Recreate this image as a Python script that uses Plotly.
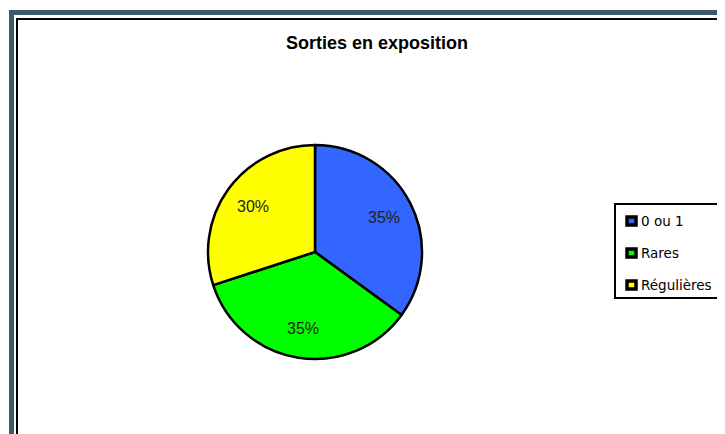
import math
import plotly.graph_objects as go

# Data
labels = ['0 ou 1', 'Rares', 'Régulières']
values = [35, 35, 30]
colors = ['#3366FF', '#00FF00', '#FFFF00']

OFF = 8  # page body margin
W, H = 725 - OFF, 434 - OFF


def px(x):
    return (x - OFF) / W


def py(y):
    return 1 - (y - OFF) / H


# pie geometry (screen pixels)
cx, cy, R = 315, 252, 107

fig = go.Figure(go.Pie(
    labels=labels,
    values=values,
    sort=False,
    direction='clockwise',
    rotation=0,
    marker=dict(colors=colors, line=dict(color='black', width=2.5)),
    textinfo='none',
    domain=dict(x=[px(cx - R), px(cx + R)], y=[py(cy + R), py(cy - R)]),
    showlegend=False,
    hoverinfo='label+percent',
))

shapes = [
    # outer slate frame
    dict(type='rect', xref='paper', yref='paper', x0=px(11.5), y0=py(470), x1=px(760), y1=py(12.5),
         line=dict(color='#3E5B6B', width=5), fillcolor='white', layer='below'),
    # inner black frame
    dict(type='rect', xref='paper', yref='paper', x0=px(17), y0=py(470), x1=px(760), y1=py(19),
         line=dict(color='black', width=2), layer='below'),
    # legend box
    dict(type='rect', xref='paper', yref='paper', x0=px(615), y0=py(298), x1=px(745), y1=py(204),
         line=dict(color='black', width=2), fillcolor='white'),
]

annotations = [
    dict(text='<b>Sorties en exposition</b>', x=px(377), y=py(43), xref='paper', yref='paper',
         showarrow=False, font=dict(family='Liberation Sans, Arial', size=18, color='black'),
         xanchor='center', yanchor='middle'),
]

# percentage labels placed along each slice's mid angle
total = sum(values)
start = 0.0
for v in values:
    mid = start + v / total * 180.0
    start += v / total * 360.0
    a = math.radians(mid)
    lx = cx + 0.72 * R * math.sin(a)
    ly = cy - 0.72 * R * math.cos(a)
    annotations.append(dict(text=f'{round(v / total * 100)}%', x=px(lx), y=py(ly), xref='paper', yref='paper',
                            showarrow=False, xanchor='center', yanchor='middle',
                            font=dict(family='Liberation Sans, Arial', size=16, color='#222222')))

item_y = [221, 253, 285]
for lab, col, yy in zip(labels, colors, item_y):
    shapes.append(dict(type='rect', xref='paper', yref='paper', x0=px(627), y0=py(yy + 4), x1=px(636), y1=py(yy - 4),
                       line=dict(color='black', width=3.5), fillcolor=col))
    annotations.append(dict(text=lab, x=px(639), y=py(yy), xref='paper', yref='paper', showarrow=False,
                            xanchor='left', yanchor='middle',
                            font=dict(family='DejaVu Sans', size=13.5, color='black')))

fig.update_layout(
    width=W, height=H,
    margin=dict(l=0, r=0, t=0, b=0),
    paper_bgcolor='white',
    plot_bgcolor='white',
    shapes=shapes,
    annotations=annotations,
)

fig.write_html('out.html')
